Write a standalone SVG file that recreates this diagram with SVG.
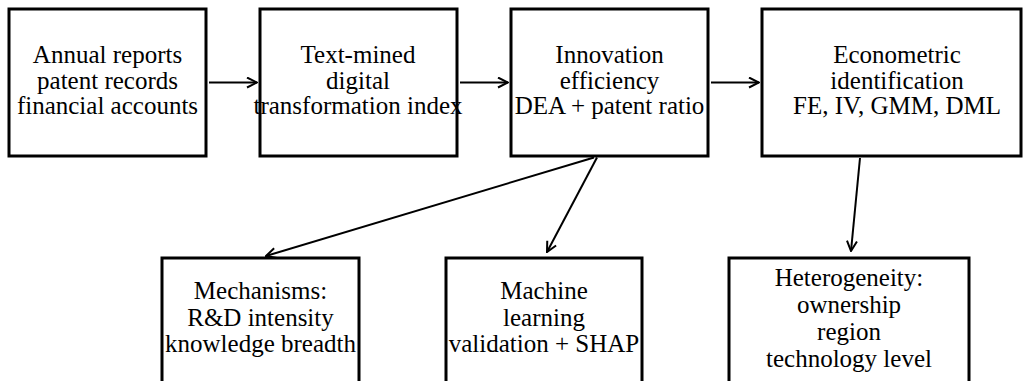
<svg xmlns="http://www.w3.org/2000/svg" width="1023" height="381" viewBox="0 0 1023 381">
  <style>
    .box { fill: #ffffff; stroke: #000000; stroke-width: 3; }
    .lbl { font-family: "Liberation Serif", "Times New Roman", serif; font-size: 25px; fill: #000000; text-anchor: middle; }
    .edge { fill: none; stroke: #000000; stroke-width: 2; }
  </style>
  <defs>
    <marker id="arrow" viewBox="0 0 12 12" refX="11" refY="6" markerWidth="12" markerHeight="12" markerUnits="userSpaceOnUse" orient="auto">
      <path d="M1,1 L11,6 L1,11" fill="none" stroke="#000000" stroke-width="2"/>
    </marker>
  </defs>
  <rect width="1023" height="381" fill="#ffffff"/>

  <g id="sources">
    <rect class="box" x="9" y="9" width="197" height="147"/>
    <text class="lbl" x="107.5" y="63">Annual reports</text>
    <text class="lbl" x="107.5" y="88.5">patent records</text>
    <text class="lbl" x="107.5" y="114">financial accounts</text>
  </g>

  <g id="dt-index">
    <rect class="box" x="260" y="9" width="197" height="147"/>
    <text class="lbl" x="358" y="63">Text-mined</text>
    <text class="lbl" x="358" y="88.5">digital</text>
    <text class="lbl" x="358" y="114">transformation index</text>
  </g>

  <g id="innovation">
    <rect class="box" x="511" y="9" width="197" height="147"/>
    <text class="lbl" x="609.5" y="63">Innovation</text>
    <text class="lbl" x="609.5" y="88.5">efficiency</text>
    <text class="lbl" x="609.5" y="114">DEA + patent ratio</text>
  </g>

  <g id="econometrics">
    <rect class="box" x="762" y="9" width="259" height="147"/>
    <text class="lbl" x="897" y="63">Econometric</text>
    <text class="lbl" x="897" y="88.5">identification</text>
    <text class="lbl" x="897" y="114">FE, IV, GMM, DML</text>
  </g>

  <g id="mechanisms">
    <rect class="box" x="162" y="258" width="197" height="147"/>
    <text class="lbl" x="260.5" y="299">Mechanisms:</text>
    <text class="lbl" x="260.5" y="325.5">R&amp;D intensity</text>
    <text class="lbl" x="260.5" y="352">knowledge breadth</text>
  </g>

  <g id="ml-validation">
    <rect class="box" x="446" y="258" width="196" height="147"/>
    <text class="lbl" x="544" y="299">Machine</text>
    <text class="lbl" x="544" y="325.5">learning</text>
    <text class="lbl" x="544" y="352">validation + SHAP</text>
  </g>

  <g id="heterogeneity">
    <rect class="box" x="729" y="258" width="240" height="147"/>
    <text class="lbl" x="849" y="286">Heterogeneity:</text>
    <text class="lbl" x="849" y="313">ownership</text>
    <text class="lbl" x="849" y="340">region</text>
    <text class="lbl" x="849" y="366.5">technology level</text>
  </g>

  <g id="connectors">
    <line class="edge" x1="209" y1="82.5" x2="257" y2="82.5" marker-end="url(#arrow)"/>
    <line class="edge" x1="460" y1="82.5" x2="508" y2="82.5" marker-end="url(#arrow)"/>
    <line class="edge" x1="711" y1="82.5" x2="759" y2="82.5" marker-end="url(#arrow)"/>
    <line class="edge" x1="594" y1="157.5" x2="266" y2="256" marker-end="url(#arrow)"/>
    <line class="edge" x1="597" y1="157.5" x2="547" y2="252" marker-end="url(#arrow)"/>
    <line class="edge" x1="860" y1="158" x2="851" y2="251" marker-end="url(#arrow)"/>
  </g>
</svg>
